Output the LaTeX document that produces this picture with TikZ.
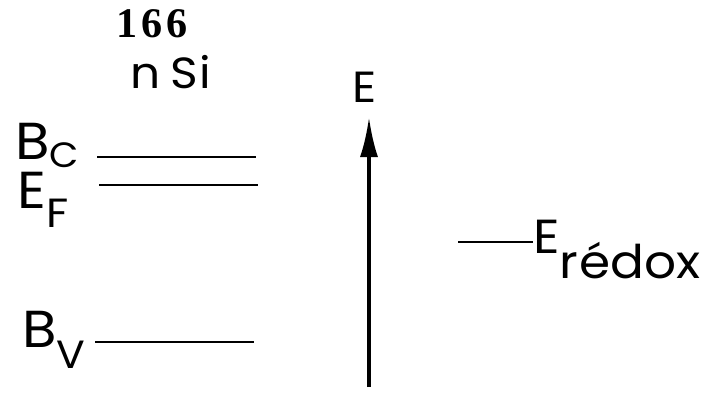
\documentclass[tikz,border=0pt]{standalone}
\usepackage{fontspec}
\setmainfont{Liberation Serif}
\newfontfamily\lettering[FakeStretch=1.08]{Poppins}
\usetikzlibrary{arrows.meta}
\begin{document}
\begin{tikzpicture}[
  x=0.025cm, y=-0.025cm,
  level/.style={line width=2pt},
  axis/.style={line width=2.6pt,-{Latex[length=1cm,width=0.45cm]}},
  big/.style={font=\lettering\fontsize{37}{40}\selectfont, inner sep=0pt, anchor=base west},
  lbl/.style={font=\lettering\fontsize{31}{34}\selectfont, inner sep=0pt, anchor=base west}
]
\useasboundingbox (0,0) rectangle (709,394);

% ---- page number and title ----
\node[font=\bfseries\fontsize{30}{33}\selectfont, inner sep=0pt] (page) at (152,24) {1\kern3pt6\kern3pt6};
\node[lbl] (title) at (130,88) {n\kern7pt S\kern1pt i};

% ---- levels of the semiconductor ----
\node[big] (bc) at (15,159) {B\raisebox{-6pt}{\lettering\fontsize{25}{27}\selectfont C}};
\node[big] (ef) at (17,208) {E\raisebox{-14pt}{\lettering\fontsize{29}{30}\selectfont F}};
\node[big] (bv) at (22,347) {B\raisebox{-15pt}{\lettering\fontsize{28}{30}\selectfont V}};

\coordinate (bcl) at (97,157);  \coordinate (bcr) at (256,157);
\coordinate (efl) at (99,185);  \coordinate (efr) at (258,185);
\coordinate (bvl) at (95,342);  \coordinate (bvr) at (254,342);
\draw[level] (bcl) -- (bcr);
\draw[level] (efl) -- (efr);
\draw[level] (bvl) -- (bvr);

% ---- energy axis ----
\node[lbl] (elbl) at (352,103) {E};
\coordinate (ebase) at (369,387);
\coordinate (etop) at (369,117);
\draw[axis] (ebase) -- (etop);

% ---- redox level ----
\node[lbl, font=\lettering\fontsize{34}{38}\selectfont] (redox) at (533,253) {E\raisebox{-18pt}{\lettering\fontsize{33}{36}\selectfont r\kern1ptédox}};
\coordinate (rdl) at (458,242);
\draw[level] (rdl) -- (redox.west |- rdl);
\end{tikzpicture}
\end{document}
